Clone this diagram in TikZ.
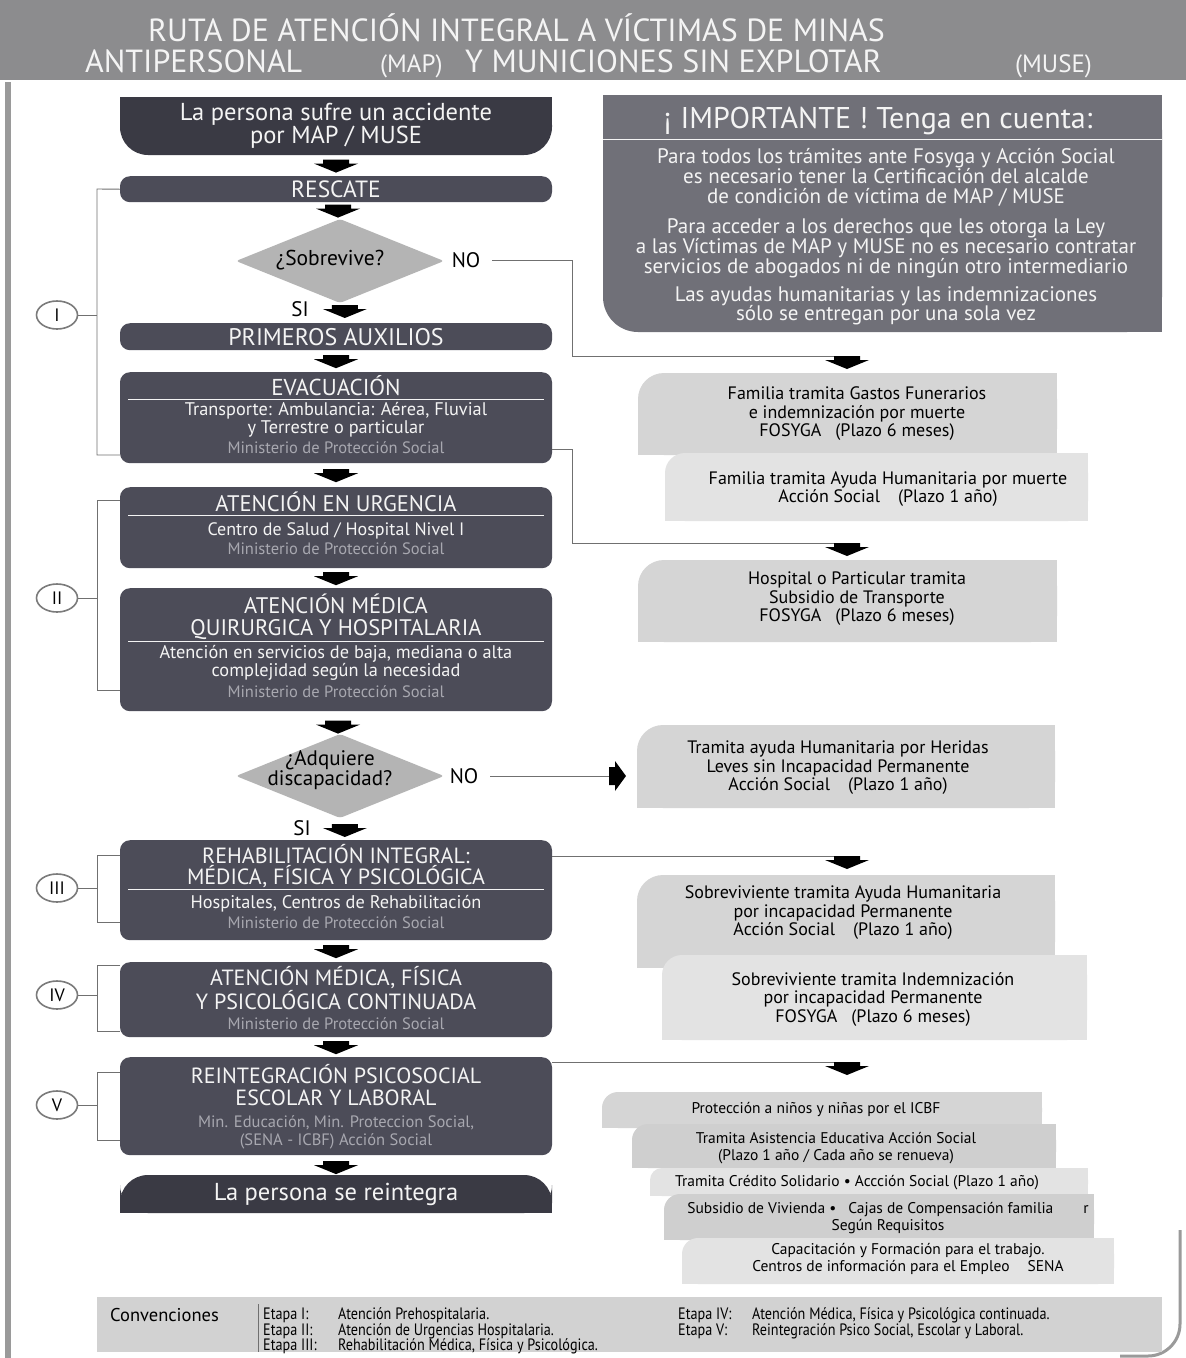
\documentclass[tikz,border=0pt]{standalone}
\usepackage{graphicx}
\usepackage{fontspec}
\setmainfont{PT Sans}
\usetikzlibrary{shapes.geometric,calc}
\definecolor{hdr}{HTML}{8C8C8E}
\definecolor{dk}{HTML}{4C4C58}
\definecolor{dkk}{HTML}{3A3A44}
\definecolor{imp}{HTML}{707078}
\definecolor{dia}{HTML}{B4B4B4}
\definecolor{mins}{HTML}{A8A8B0}
\definecolor{ln}{HTML}{707070}
\definecolor{wt}{HTML}{F4F4F4}
\definecolor{frm}{HTML}{9A9A9A}
\definecolor{lA}{HTML}{D5D5D5}
\definecolor{lB}{HTML}{E3E3E3}
\definecolor{lC}{HTML}{CFCFCF}
\definecolor{conv}{HTML}{D2D2D2}
\newcommand\fsz[2]{\fontsize{#1}{#2}\selectfont}
\newcommand\lbox[6]{\fill[#5, rounded corners=#6pt] (#1,#2) rectangle (#3,#4);
  \fill[#5] (#1+#6+2,#2) rectangle (#3,#4);
  \fill[#5] (#1,#2+#6+2) rectangle (#3,#4);}
\newcommand\hsc[1]{\scalebox{0.86}[1]{#1}}
\tikzset{
  barrow/.pic={\fill[black] (-13,0) -- (13,0) -- (13,4) -- (22,4) -- (0,13) -- (-22,4) -- (-13,4) -- cycle;},
  rarrow/.pic={\fill[black] (0,-9) -- (6,-9) -- (6,-15) -- (17,0) -- (6,15) -- (6,9) -- (0,9) -- cycle;},
}
\begin{document}
\begin{tikzpicture}[x=1pt,y=-1pt,
  box/.style={fill=dk, rounded corners=10pt, minimum width=432, inner sep=0, anchor=north},
  wtxt/.style={text=wt, inner sep=0, align=center},
  mtxt/.style={text=mins, inner sep=0, font=\fsz{16.5}{18}},
  rtxt/.style={text=black, inner sep=0, align=center, font=\fsz{18}{18.5}},
  conn/.style={draw=ln, line width=0.9},
  rulew/.style={draw=wt, line width=1},
  stage/.style={ellipse, draw=frm!80!black, line width=1.6, minimum width=41, minimum height=28, inner sep=0, font=\fsz{18}{18}, fill=white},
  dmd/.style={diamond, fill=dia, minimum width=208, minimum height=84, inner sep=0, aspect=2.5, rounded corners=3pt},
  ttl/.style={anchor=base west, text=wt, inner sep=0},
]
\useasboundingbox (0,0) rectangle (1186,1358);
\fill[white] (0,0) rectangle (1186,1358);
% header
\fill[hdr] (0,0) rectangle (1186,80);
\node[ttl, font=\fsz{32}{32}] (t1) at (148,41) {RUTA DE ATENCIÓN INTEGRAL A VÍCTIMAS DE MINAS};
\node[ttl, font=\fsz{32}{32}] (t2) at (85,72) {ANTIPERSONAL};
\node[ttl, font=\fsz{25}{25}] (t3) at (380,72) {(MAP)};
\node[ttl, font=\fsz{32}{32}] (t4) at (465,72) {Y MUNICIONES SIN EXPLOTAR};
\node[ttl, font=\fsz{25}{25}] (t5) at (1015,72) {(MUSE)};
% frame
\fill[frm] (5,82) rectangle (11,1358);
\draw[frm, line width=3, rounded corners=32pt] (1180,1230) -- (1180,1356) -- (1120,1356);

% ===== left column =====
\fill[dkk, rounded corners=28pt] (120,97) rectangle (552,155);
\fill[dkk] (120,97) rectangle (552,128);
\node[wtxt, font=\fsz{24.5}{22}, minimum width=432, minimum height=58] (acc) at (336,126) {La persona sufre un accidente\\por MAP / MUSE};

\node[box, minimum height=26, font=\fsz{23.5}{24}, text=wt] (resc) at (336,176) {RESCATE};

\node[dmd] (sob) at (340,261) {};
\node[inner sep=0, font=\fsz{21.5}{22}] (sobt) at (330,260) {¿Sobrevive?};
\node[inner sep=0, font=\fsz{21}{22}] (no1) at (466,260) {NO};
\node[inner sep=0, font=\fsz{21}{22}] (si1) at (300,309) {SI};

\node[box, minimum height=27, font=\fsz{24}{24}, text=wt] (prim) at (336,323) {PRIMEROS AUXILIOS};

\node[box, minimum height=91] (evac) at (336,372) {};
\node[wtxt, font=\fsz{23}{24}] (evt) at (336,386) {EVACUACIÓN};
\draw[rulew] (128,399) -- (544,399);
\node[wtxt, font=\fsz{18.3}{17.5}] (evs) at (336,420) {Transporte: Ambulancia: Aérea, Fluvial\\y Terrestre o particular};
\node[mtxt] (evm) at (336,448) {Ministerio de Protección Social};

\node[box, minimum height=81] (urg) at (336,487) {};
\node[wtxt, font=\fsz{22.5}{24}] (urt) at (336,502) {ATENCIÓN EN URGENCIA};
\draw[rulew] (128,515) -- (544,515);
\node[wtxt, font=\fsz{18}{18}] (urs) at (336,531) {Centro de Salud / Hospital Nivel I};
\node[mtxt] (urm) at (336,549) {Ministerio de Protección Social};

\node[box, minimum height=123] (med) at (336,588) {};
\node[wtxt, font=\fsz{22.5}{22}] (mdt) at (336,617) {ATENCIÓN MÉDICA\\QUIRURGICA Y HOSPITALARIA};
\draw[rulew] (128,641) -- (544,641);
\node[wtxt, font=\fsz{18.3}{17.5}] (mds) at (336,663) {Atención en servicios de baja, mediana o alta\\complejidad según la necesidad};
\node[mtxt] (mdm) at (336,692) {Ministerio de Protección Social};

\node[dmd] (adq) at (340,776) {};
\node[inner sep=0, font=\fsz{21}{20}, align=center] (adqt) at (330,770) {¿Adquiere\\discapacidad?};
\node[inner sep=0, font=\fsz{21}{22}] (no2) at (464,776) {NO};
\node[inner sep=0, font=\fsz{21}{22}] (si2) at (302,828) {SI};

\node[box, minimum height=100] (reh) at (336,840) {};
\node[wtxt, font=\fsz{22}{20.5}] (rht) at (336,866) {REHABILITACIÓN INTEGRAL:\\MÉDICA, FÍSICA Y PSICOLÓGICA};
\draw[rulew] (128,889) -- (544,889);
\node[wtxt, font=\fsz{18.3}{18}] (rhs) at (336,904) {Hospitales, Centros de Rehabilitación};
\node[mtxt] (rhm) at (336,923) {Ministerio de Protección Social};

\node[box, minimum height=75] (cont) at (336,962) {};
\node[wtxt, font=\fsz{22}{21}] (cnt) at (336,988) {ATENCIÓN MÉDICA, FÍSICA\\Y PSICOLÓGICA CONTINUADA};
\node[mtxt] (cnm) at (336,1024) {Ministerio de Protección Social};

\node[box, minimum height=98] (rein) at (336,1057) {};
\node[wtxt, font=\fsz{22}{22}] (rnt) at (336,1085) {REINTEGRACIÓN PSICOSOCIAL\\ESCOLAR Y LABORAL};
\node[wtxt, text=mins, font=\fsz{16.5}{18}] (rnm) at (336,1132) {Min. Educación, Min. Proteccion Social,\\(SENA - ICBF) Acción Social};

\fill[dkk, rounded corners=28pt] (120,1175) rectangle (552,1213);
\fill[dkk] (120,1195) rectangle (552,1213);
\node[wtxt, font=\fsz{24.5}{24}, minimum width=432, minimum height=38] (fin) at (336,1194) {La persona se reintegra};

% block arrows between stacked nodes
\pic at ($(acc.south)!0.5!(resc.north)+(0,-6)$) {barrow};
\pic at ($(resc.south)!0.5!(sob.north)+(0,-6)$) {barrow};
\pic at ($(si1.east)+(36,-4)$) {barrow};
\pic at ($(prim.south)!0.5!(evac.north)+(0,-6)$) {barrow};
\pic at ($(evac.south)!0.5!(urg.north)+(0,-6)$) {barrow};
\pic at ($(urg.south)!0.5!(med.north)+(0,-6)$) {barrow};
\pic at ($(med.south)!0.5!(adq.north)+(0,-2)$) {barrow};
\pic at ($(si2.east)+(34,-4)$) {barrow};
\pic at ($(reh.south)!0.5!(cont.north)+(0,-6)$) {barrow};
\pic at ($(cont.south)!0.5!(rein.north)+(0,-6)$) {barrow};
\pic at ($(rein.south)!0.5!(fin.north)+(0,-4)$) {barrow};

% stage brackets
\node[stage] (s1) at (57,315) {I};
\draw[conn] (resc.west) -- (97,189) -- (97,455) -- (120,455);
\draw[conn] (s1.east) -- (97,315);
\node[stage] (s2) at (57,598) {II};
\draw[conn] (120,500) -- (97,500) -- (97,690) -- (120,690);
\draw[conn] (s2.east) -- (97,598);
\node[stage] (s3) at (57,888) {III};
\draw[conn] (120,855) -- (97,855) -- (97,922) -- (120,922);
\draw[conn] (s3.east) -- (97,888);
\node[stage] (s4) at (57,995) {IV};
\draw[conn] (120,965) -- (97,965) -- (97,1031) -- (120,1031);
\draw[conn] (s4.east) -- (97,995);
\node[stage] (s5) at (57,1105) {V};
\draw[conn] (120,1072) -- (97,1072) -- (97,1140) -- (120,1140);
\draw[conn] (s5.east) -- (97,1105);

% ===== right column =====
\fill[imp, rounded corners=35pt] (603,95) rectangle (1162,332);
\fill[imp] (603,95) rectangle (1162,290);
\fill[imp] (650,95) rectangle (1162,332);
\node[wtxt, font=\fsz{30}{30}] (impt) at (878,121) {¡ IMPORTANTE ! Tenga en cuenta:};
\draw[rulew] (603,139) -- (1162,139);
\node[wtxt, font=\fsz{21}{19.5}] (imp1) at (886,177) {Para todos los trámites ante Fosyga y Acción Social\\es necesario tener la Certificación del alcalde\\de condición de víctima de MAP / MUSE};
\node[wtxt, font=\fsz{21}{19.5}] (imp2) at (886,248) {Para acceder a los derechos que les otorga la Ley\\a las Víctimas de MAP y MUSE no es necesario contratar\\servicios de abogados ni de ningún otro intermediario};
\node[wtxt, font=\fsz{21}{19.5}] (imp3) at (886,306) {Las ayudas humanitarias y las indemnizaciones\\sólo se entregan por una sola vez};

\lbox{638}{373}{1057}{455}{lA}{26}
\lbox{665}{453}{1088}{521}{lB}{20}
\node[rtxt] (ra) at (857,414) {Familia tramita Gastos Funerarios\\e indemnización por muerte\\FOSYGA\hspace{14pt}(Plazo 6 meses)};
\node[rtxt] (rb) at (888,489) {Familia tramita Ayuda Humanitaria por muerte\\Acción Social\hspace{18pt}(Plazo 1 año)};

\lbox{638}{560}{1057}{642}{lA}{26}
\node[rtxt] (rc) at (857,599) {Hospital o Particular tramita\\Subsidio de Transporte\\FOSYGA\hspace{14pt}(Plazo 6 meses)};

\lbox{637}{725}{1055}{808}{lA}{26}
\node[rtxt] (rd) at (838,768) {Tramita ayuda Humanitaria por Heridas\\Leves sin Incapacidad Permanente\\Acción Social\hspace{18pt}(Plazo 1 año)};

\lbox{637}{875}{1055}{968}{lA}{26}
\lbox{662}{955}{1087}{1040}{lB}{20}
\node[rtxt] (re) at (843,913) {Sobreviviente tramita Ayuda Humanitaria\\por incapacidad Permanente\\Acción Social\hspace{18pt}(Plazo 1 año)};
\node[rtxt] (rf) at (873,999) {Sobreviviente tramita Indemnización\\por incapacidad Permanente\\FOSYGA\hspace{14pt}(Plazo 6 meses)};

\lbox{602}{1092}{1042}{1128}{lA}{16}
\lbox{632}{1124}{1056}{1168}{lC}{16}
\lbox{650}{1168}{1088}{1196}{lB}{12}
\lbox{664}{1194}{1094}{1240}{lC}{16}
\lbox{682}{1238}{1114}{1284}{lB}{16}
\node[rtxt, font=\fsz{15.5}{17}] (g1) at (816,1109) {Protección a niños y niñas por el ICBF};
\node[rtxt, font=\fsz{15.5}{17}] (g2) at (836,1148) {Tramita Asistencia Educativa Acción Social\\(Plazo 1 año / Cada año se renueva)};
\node[rtxt, font=\fsz{15.5}{17}] (g3) at (857,1183) {Tramita Crédito Solidario • Accción Social (Plazo 1 año)};
\node[rtxt, font=\fsz{15.5}{17}] (g4) at (888,1218) {Subsidio de Vivienda •\hspace{12pt}Cajas de Compensación familia\hspace{30pt}r\\Según Requisitos};
\node[rtxt, font=\fsz{15.5}{17}] (g5) at (908,1259) {Capacitación y Formación para el trabajo.\\Centros de información para el Empleo\hspace{18pt}SENA};

% connectors to right column
\coordinate (kA) at (572,356);
\coordinate (aA) at (847,356);
\draw[conn] ([xshift=12pt]no1.east) -| (kA) -- (aA);
\pic at (aA) {barrow};
\coordinate (kC) at (572,543);
\coordinate (aC) at (847,543);
\draw[conn] ([yshift=-32pt]evac.east) -| (kC) -- (aC);
\pic at (aC) {barrow};
\coordinate (aD) at (609,776);
\draw[conn] ([xshift=12pt]no2.east) -- (aD);
\pic at (aD) {rarrow};
\coordinate (aE) at (847,856);
\draw[conn] (reh.north east |- aE) -- (aE);
\pic at (aE) {barrow};
\coordinate (aG) at (847,1062);
\draw[conn] (rein.north east |- aG) -- (aG);
\pic at (aG) {barrow};

% conventions
\fill[conv] (97,1297) rectangle (1162,1352);
\node[anchor=west, inner sep=0, font=\fsz{18.5}{18}] (cv) at (110,1315) {Convenciones};
\draw[ln, line width=0.9] (258,1304) -- (258,1352);
\begin{scope}[every node/.style={anchor=west, inner sep=0, font=\fsz{16.5}{17}}]
\node (e1) at (263,1315) {\hsc{Etapa I:}};
\node (e2) at (263,1331) {\hsc{Etapa II:}};
\node (e3) at (263,1346) {\hsc{Etapa III:}};
\node (d1) at (338,1315) {\hsc{Atención Prehospitalaria.}};
\node (d2) at (338,1331) {\hsc{Atención de Urgencias Hospitalaria.}};
\node (d3) at (338,1346) {\hsc{Rehabilitación Médica, Física y Psicológica.}};
\node (e4) at (678,1315) {\hsc{Etapa IV:}};
\node (e5) at (678,1331) {\hsc{Etapa V:}};
\node (d4) at (752,1315) {\hsc{Atención Médica, Física y Psicológica continuada.}};
\node (d5) at (752,1331) {\hsc{Reintegración Psico Social, Escolar y Laboral.}};
\end{scope}
\end{tikzpicture}
\end{document}
